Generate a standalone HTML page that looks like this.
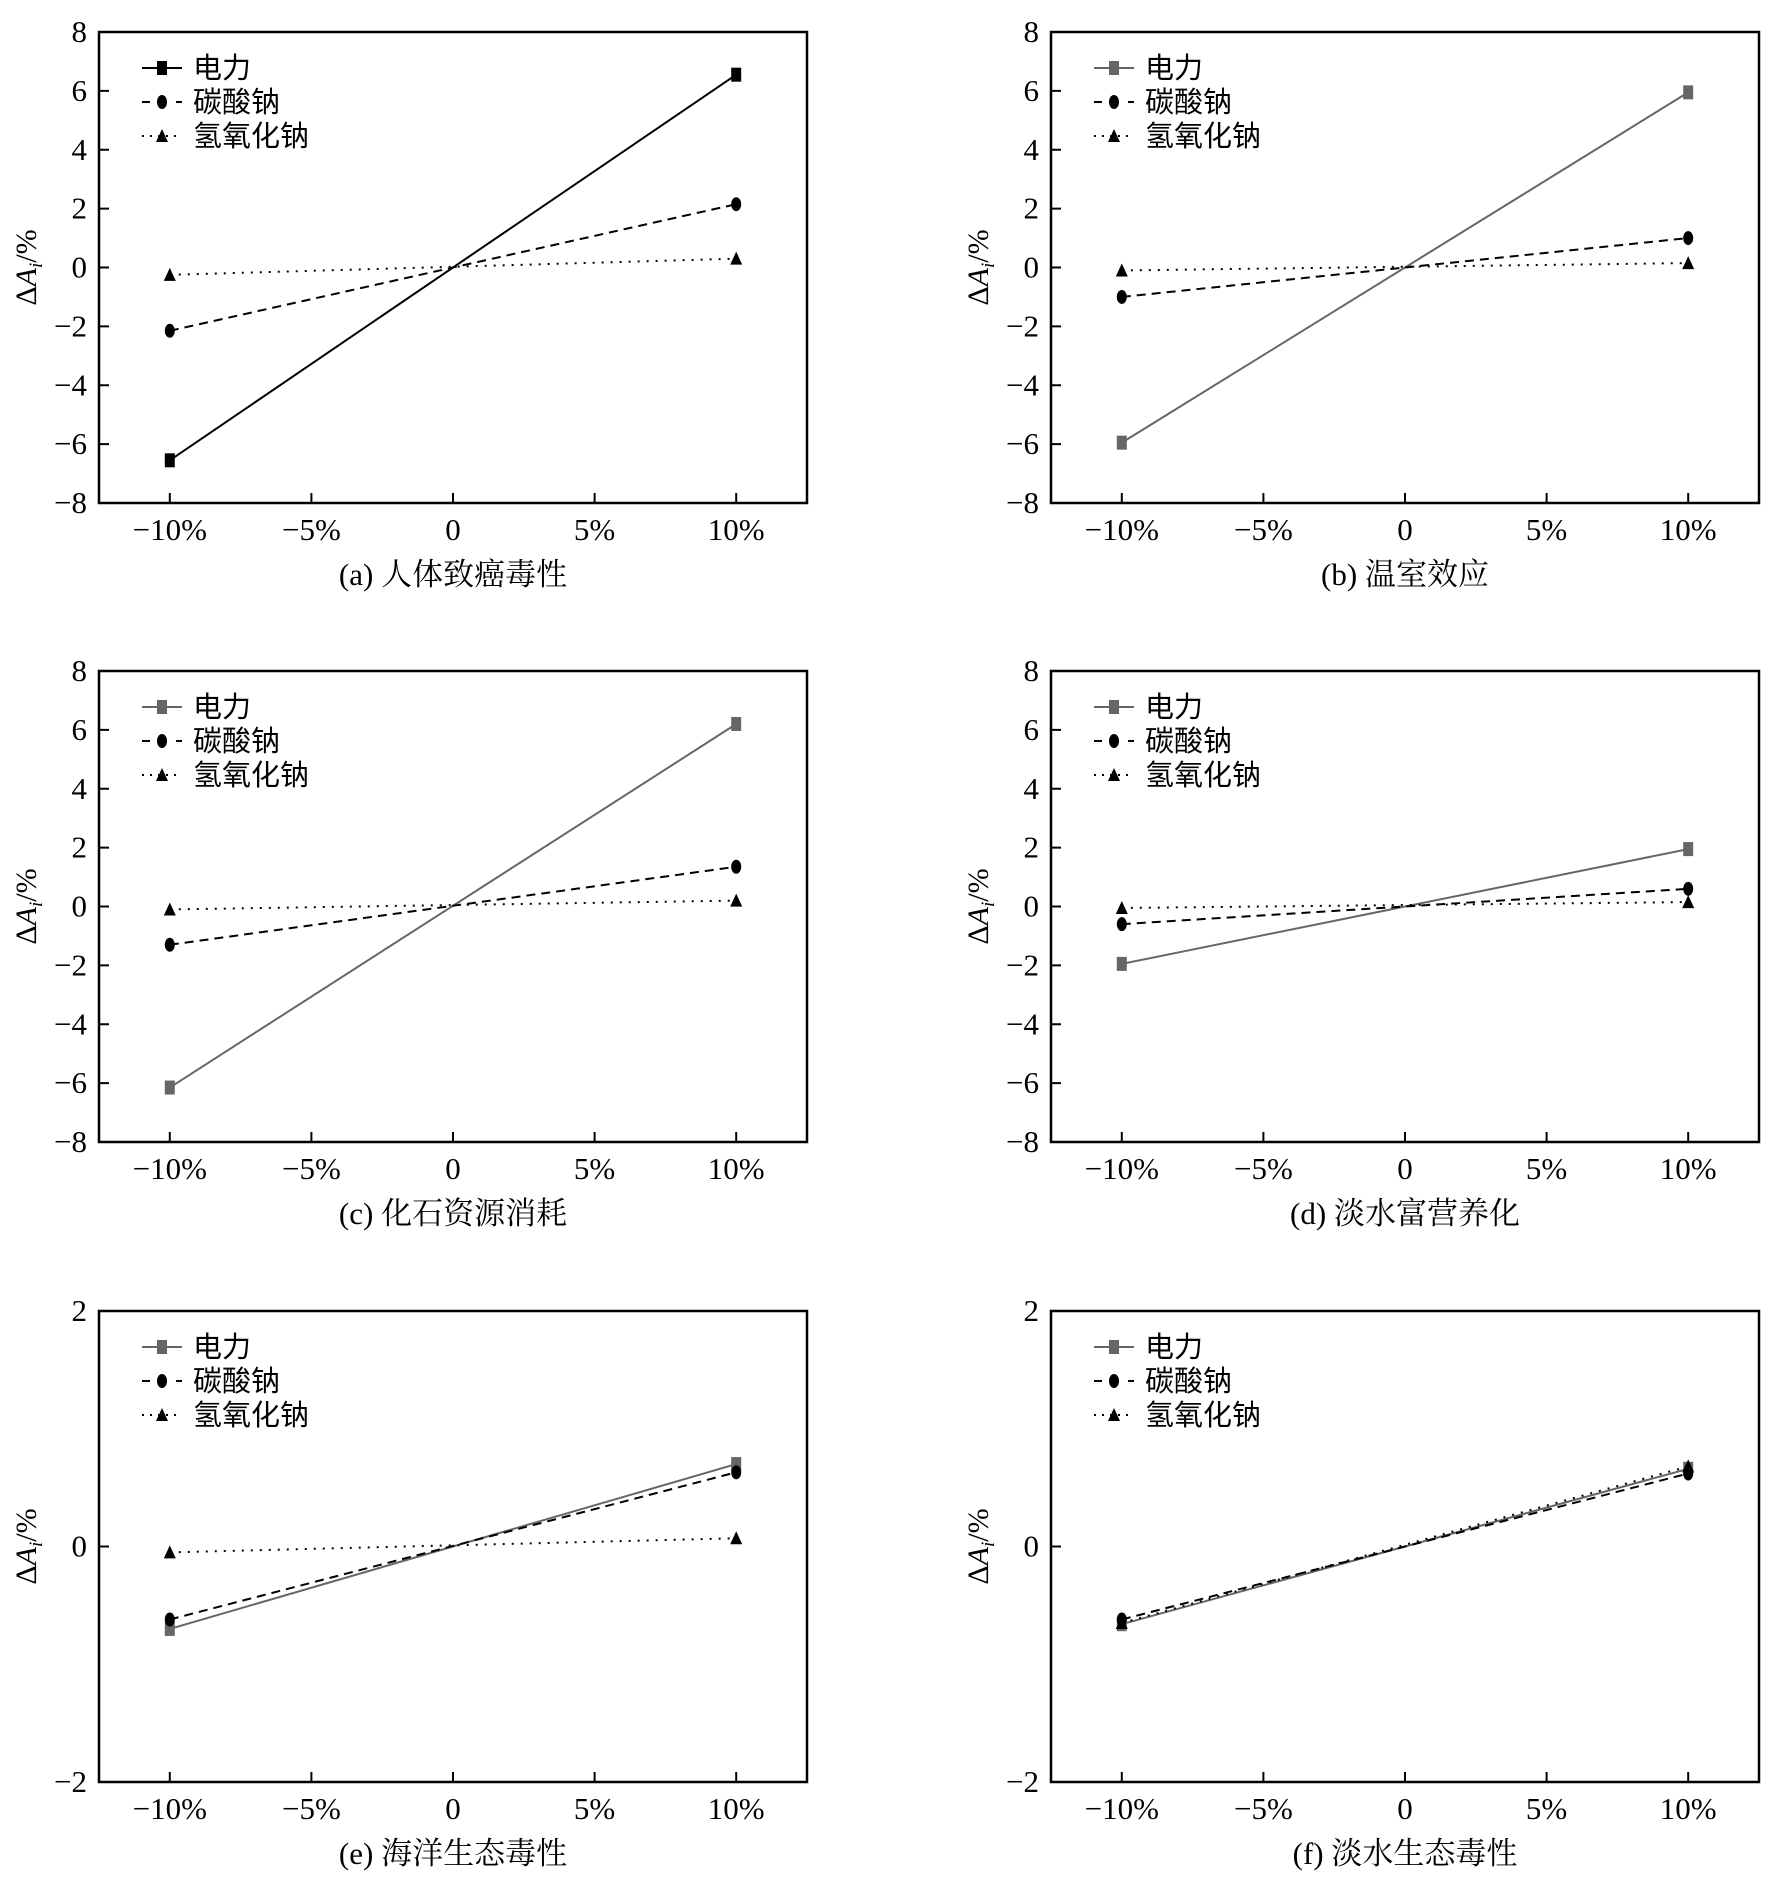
<!DOCTYPE html>
<html><head><meta charset="utf-8">
<style>
html,body{margin:0;padding:0;background:#fff;}
svg{display:block;font-family:"Liberation Serif","Noto Serif CJK SC","Noto Sans CJK SC",serif;}
</style></head>
<body>
<svg id="fig" width="1769" height="1881" viewBox="0 0 1769 1881" xmlns="http://www.w3.org/2000/svg"></svg>
<script>
const categories = [-10, 10];
const xTickLabels = ["−10%","−5%","0","5%","10%"];
const xTickValues = [-10,-5,0,5,10];
const seriesNames = ["电力","碳酸钠","氢氧化钠"];
const panelTitles = ["(a) 人体致癌毒性","(b) 温室效应","(c) 化石资源消耗","(d) 淡水富营养化","(e) 海洋生态毒性","(f) 淡水生态毒性"];
const elecA = [-6.55, 6.55], sodaA = [-2.15, 2.15], naohA = [-0.25, 0.3];
const elecB = [-5.95, 5.95], sodaB = [-1.0, 1.0], naohB = [-0.1, 0.15];
const elecC = [-6.15, 6.2], sodaC = [-1.3, 1.35], naohC = [-0.1, 0.2];
const elecD = [-1.95, 1.95], sodaD = [-0.6, 0.6], naohD = [-0.05, 0.15];
const elecE = [-0.7, 0.7], sodaE = [-0.62, 0.63], naohE = [-0.05, 0.07];
const elecF = [-0.66, 0.66], sodaF = [-0.62, 0.62], naohF = [-0.65, 0.68];
const yTicksBig = [-8,-6,-4,-2,0,2,4,6,8];
const yTicksSmall = [-2,0,2];

const NS="http://www.w3.org/2000/svg";
const svg=document.getElementById('fig');
function mk(tag,attrs,parent){const e=document.createElementNS(NS,tag);for(const k in attrs)e.setAttribute(k,attrs[k]);(parent||svg).appendChild(e);return e;}

const panels=[
 {l:99,t:32,series:[elecA,sodaA,naohA],yt:yTicksBig,ymin:-8,ymax:8,ecol:"#000"},
 {l:1051,t:32,series:[elecB,sodaB,naohB],yt:yTicksBig,ymin:-8,ymax:8,ecol:"#666"},
 {l:99,t:671,series:[elecC,sodaC,naohC],yt:yTicksBig,ymin:-8,ymax:8,ecol:"#666"},
 {l:1051,t:671,series:[elecD,sodaD,naohD],yt:yTicksBig,ymin:-8,ymax:8,ecol:"#666"},
 {l:99,t:1311,series:[elecE,sodaE,naohE],yt:yTicksSmall,ymin:-2,ymax:2,ecol:"#666"},
 {l:1051,t:1311,series:[elecF,sodaF,naohF],yt:yTicksSmall,ymin:-2,ymax:2,ecol:"#666"}
];
const W=708,H=471;
const dashes=[null,"9,6","2,7"];

function marker(g,k,x,y,col){
  let m;
  if(k===0){m=mk('rect',{x:x-5,y:y-7,width:10,height:14,fill:col},g);}
  else if(k===1){m=mk('ellipse',{cx:x,cy:y,rx:5,ry:7,fill:'#000'},g);}
  else {m=mk('polygon',{points:`${x},${y-7} ${x-6},${y+6} ${x+6},${y+6}`,fill:'#000'},g);}
  return m;
}

panels.forEach((p,i)=>{
  const g=mk('g',{});
  
  
  const xs=v=>p.l+(v+12.5)/25*W;
  const ys=v=>p.t+H-(v-p.ymin)/(p.ymax-p.ymin)*H;
  const frame=mk('rect',{x:p.l,y:p.t,width:W,height:H,fill:'none',stroke:'#000','stroke-width':2.5},g);
  
  
  p.yt.forEach(v=>{
    const y=ys(v);
    mk('line',{x1:p.l,y1:y,x2:p.l+10,y2:y,stroke:'#000','stroke-width':2},g);
    const t=mk('text',{x:p.l-12,y:y+10,'text-anchor':'end','font-size':31},g);
    t.textContent=v<0?'−'+Math.abs(v):String(v);
    
    
  });
  xTickValues.forEach((v,j)=>{
    const x=xs(v);
    mk('line',{x1:x,y1:p.t+H,x2:x,y2:p.t+H-10,stroke:'#000','stroke-width':2},g);
    const t=mk('text',{x:x,y:p.t+H+37,'text-anchor':'middle','font-size':31},g);
    t.textContent=xTickLabels[j];
    
    
  });
  p.series.forEach((s,k)=>{
    const col=k===0?p.ecol:'#000';
    const ln=mk('line',{x1:xs(categories[0]),y1:ys(s[0]),x2:xs(categories[1]),y2:ys(s[1]),stroke:col,'stroke-width':2},g);
    if(dashes[k])ln.setAttribute('stroke-dasharray',dashes[k]);
    
    
    s.forEach((v,j)=>{
      const m=marker(g,k,xs(categories[j]),ys(v),col);
      
      
    });
  });
  seriesNames.forEach((n,k)=>{
    const y=p.t+36+k*34;
    const col=k===0?p.ecol:'#000';
    const ln=mk('line',{x1:p.l+43,y1:y,x2:p.l+83,y2:y,stroke:col,'stroke-width':2},g);
    if(dashes[k])ln.setAttribute('stroke-dasharray',dashes[k]==="2,7"?"2,6":"8,9");
    
    
    marker(g,k,p.l+63,y,col);
    const t=mk('text',{x:p.l+94,y:y+10,'font-size':29,'font-family':'"Noto Sans CJK SC",sans-serif'},g);
    t.textContent=n;
    
    
  });
  const yl=mk('text',{transform:`translate(${p.l-63},${p.t+H/2}) rotate(-90)`,'text-anchor':'middle','font-size':30},g);
  yl.innerHTML='Δ<tspan font-style="italic">A</tspan><tspan font-style="italic" font-size="19" dy="6">i</tspan><tspan dy="-6">/%</tspan>';
  
  
  const cap=mk('text',{x:p.l+W/2,y:p.t+H+82,'text-anchor':'middle','font-size':31},g);
  cap.textContent=panelTitles[i];
  
  
});
</script>
</body></html>
